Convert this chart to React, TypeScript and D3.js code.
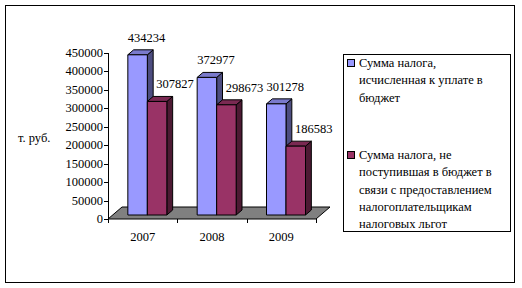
import React from "react";
import * as d3 from "d3";

const years = ["2007", "2008", "2009"];
const seriesNames = [
  ["Сумма налога,", "исчисленная к уплате в", "бюджет"],
  ["Сумма налога, не", "поступившая в бюджет в", "связи с предоставлением", "налогоплательщикам", "налоговых льгот"],
];
const calculated = [434234, 372977, 301278];
const notReceived = [307827, 298673, 186583];
const yTicks = [0, 50000, 100000, 150000, 200000, 250000, 300000, 350000, 400000, 450000];
const yTitle = "т. руб.";

const colors = [
  { front: "#9999FF", side: "#4D4D80", top: "#7A7ACC" },
  { front: "#993366", side: "#4D1A33", top: "#7A2952" },
];

const FONT = "Liberation Serif, Times New Roman, DejaVu Serif, serif";

export default function App() {
  const W = 522, H = 288;
  const x0 = 108, x1 = 316, yBase = 219, yTop = 53;
  const D = { x: 14, y: -12 }; // floor depth vector
  const t0 = 1 / 3, t1 = 0.75;

  const y = d3.scaleLinear().domain([0, 450000]).range([yBase, yTop]);
  const xb = d3.scaleBand<string>().domain(years).range([x0, x1]).paddingInner(0.4375).paddingOuter(0.21875);
  const xs = d3.scaleBand<number>().domain([0, 1]).range([0, xb.bandwidth()]);
  const step = xb.step();
  const data = [calculated, notReceived];
  const labelDx = [9, 18];

  const fx = D.x * t0, fy = D.y * t0;
  const bx = D.x * (t1 - t0), by = D.y * (t1 - t0);

  const floor = [
    [x0, yBase], [x0 + D.x, yBase + D.y], [x1 + D.x, yBase + D.y], [x1, yBase],
  ].map((p) => p.join(",")).join(" ");

  const bars: React.ReactNode[] = [];
  const labels: React.ReactNode[] = [];
  years.forEach((yr, i) => {
    [0, 1].forEach((s) => {
      const v = data[s][i];
      const xl = (xb(yr) as number) + (xs(s) as number) + fx;
      const w = xs.bandwidth();
      const yt = y(v) + fy;
      const yb = y(0) + fy;
      const c = colors[s];
      bars.push(
        <g key={`b${i}-${s}`} stroke="#000" strokeWidth={1} strokeLinejoin="round">
          <polygon points={`${xl + w},${yb} ${xl + w + bx},${yb + by} ${xl + w + bx},${yt + by} ${xl + w},${yt}`} fill={c.side} />
          <polygon points={`${xl},${yt} ${xl + bx},${yt + by} ${xl + w + bx},${yt + by} ${xl + w},${yt}`} fill={c.top} />
          <rect x={xl} y={yt} width={w} height={yb - yt} fill={c.front} />
        </g>
      );
      labels.push(
        <text key={`l${i}-${s}`} x={xl + w / 2 + labelDx[s]} y={yt - 17} textAnchor="middle" dominantBaseline="central">
          {v}
        </text>
      );
    });
  });

  return (
    <svg width={W} height={H} style={{ position: "absolute", left: 0, top: 0, fontFamily: FONT, fontSize: "12.5px" }}>
      <rect x={0} y={0} width={W} height={H} fill="#fff" />
      <rect x={5.5} y={5.5} width={509} height={277} fill="none" stroke="#000" strokeWidth={1} />
      <polygon points={floor} fill="#808080" stroke="#000" strokeWidth={1} />
      {/* y axis */}
      <line x1={x0 + 0.5} x2={x0 + 0.5} y1={y(0)} y2={y(450000)} stroke="#000" />
      {yTicks.map((t) => (
        <g key={t}>
          <line x1={x0 - 4} x2={x0} y1={Math.round(y(t)) + 0.5} y2={Math.round(y(t)) + 0.5} stroke="#000" />
          <text x={103} y={y(t)} textAnchor="end" dominantBaseline="central">{t}</text>
        </g>
      ))}
      {/* x ticks */}
      {d3.range(years.length + 1).map((k) => (
        <line key={k} x1={Math.round(x0 + k * step) + 0.5} x2={Math.round(x0 + k * step) + 0.5} y1={yBase} y2={yBase + 4} stroke="#000" />
      ))}
      {years.map((yr) => (
        <text key={yr} x={(xb(yr) as number) + xb.bandwidth() / 2} y={237} textAnchor="middle" dominantBaseline="central">{yr}</text>
      ))}
      <text x={18} y={138} dominantBaseline="central">{yTitle}</text>
      {bars}
      {labels}
      {/* legend */}
      <rect x={343.5} y={54.5} width={167} height={177} fill="#fff" stroke="#000" />
      {seriesNames.map((lines, s) => {
        const top = s === 0 ? 63 : 155;
        return (
          <g key={s}>
            <rect x={347.5} y={top - 3.5} width={7} height={7} fill={colors[s].front} stroke="#000" />
            {lines.map((ln, k) => (
              <text key={k} x={359} y={top + k * 17.3} dominantBaseline="central">{ln}</text>
            ))}
          </g>
        );
      })}
    </svg>
  );
}
